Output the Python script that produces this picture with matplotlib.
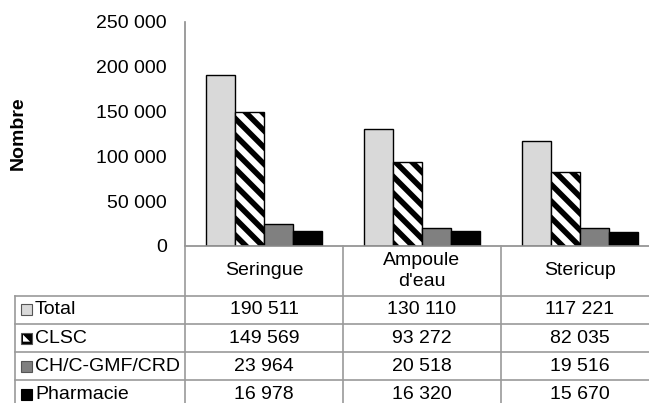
import numpy as np
import matplotlib
matplotlib.use("Agg")
import matplotlib.pyplot as plt
from matplotlib.lines import Line2D
from matplotlib.patches import Rectangle, Polygon
from matplotlib import transforms
from matplotlib.ticker import FuncFormatter

plt.rcParams['font.family'] = ['Liberation Sans', 'DejaVu Sans']
plt.rcParams['hatch.linewidth'] = 4.0

categories = ["Seringue", "Ampoule\nd'eau", "Stericup"]
series = ["Total", "CLSC", "CH/C-GMF/CRD", "Pharmacie"]
total = [190511, 130110, 117221]
clsc = [149569, 93272, 82035]
ch = [23964, 20518, 19516]
pharmacie = [16978, 16320, 15670]
values = [total, clsc, ch, pharmacie]

colors = ['#d9d9d9', 'white', '#808080', 'black']
hatches = [None, '\\\\', None, None]

W, H = 649, 403
fig = plt.figure(figsize=(W / 100, H / 100), dpi=100)

def fx(px):
    return px / W

def fy(py):
    return 1 - py / H

ax_left, ax_right = 185, 659
ax_top, ax_bot = 21.5, 246
ax = fig.add_axes([fx(ax_left), fy(ax_bot), fx(ax_right - ax_left), fy(ax_top) - fy(ax_bot)])

x = np.arange(len(categories))
bw = 0.183
fs = 14
for i, (name, vals) in enumerate(zip(series, values)):
    ax.bar(x + (i - 1.5) * bw, vals, bw, color=colors[i], edgecolor='black',
           linewidth=1.0, hatch=hatches[i], zorder=3)

ax.set_xlim(-0.5, 2.5)
ax.set_ylim(0, 250000)
ax.set_yticks(np.arange(0, 250001, 50000))
ax.yaxis.set_major_formatter(FuncFormatter(lambda v, p: f"{v:,.0f}".replace(',', ' ')))
ax.tick_params(axis='y', length=0, pad=13, labelsize=fs)
ax.set_xticks([])
for s in ['top', 'right', 'bottom']:
    ax.spines[s].set_visible(False)
ax.spines['left'].set_color('#8c8c8c')
ax.spines['left'].set_linewidth(1.2)
ax.patch.set_visible(False)

fig.text(fx(18.5), fy(133), "Nombre", rotation=90, fontsize=fs, fontweight='bold',
         ha='center', va='center')

# data table under the chart
gridc = '#9a9a9a'
lw = 1.2
trans = transforms.blended_transform_factory(ax.transData, fig.transFigure)
row_lines = [295.7, 324, 352, 380]
row_h = 28.3
tab_left = 14.7

fig.add_artist(Line2D([fx(ax_left), 1], [fy(ax_bot), fy(ax_bot)], color='#8c8c8c', lw=lw))
fig.add_artist(Line2D([fx(ax_left), fx(ax_left)], [fy(ax_bot), 0], color=gridc, lw=lw))
fig.add_artist(Line2D([fx(tab_left), fx(tab_left)], [fy(row_lines[0]), 0], color=gridc, lw=lw))
for b in [0.5, 1.5]:
    fig.add_artist(Line2D([b, b], [fy(ax_bot), 0], color=gridc, lw=lw, transform=trans))
for ry in row_lines:
    fig.add_artist(Line2D([fx(tab_left), 1], [fy(ry), fy(ry)], color=gridc, lw=lw))

# header
for xi, c in zip(x, categories):
    fig.text(xi, fy((ax_bot + row_lines[0]) / 2), c, transform=trans, ha='center',
             va='center', fontsize=fs, linespacing=1.35)

# rows
ks = 11
for i, (name, vals) in enumerate(zip(series, values)):
    yc = row_lines[0] + row_h * (i + 0.5)
    x0, y0 = 21, yc + ks / 2
    key = Rectangle((fx(x0), fy(y0)), fx(ks), fy(y0 - ks) - fy(y0),
                    facecolor=colors[i] if i != 1 else 'black',
                    edgecolor='#555555' if i != 3 else 'black',
                    lw=0.8, transform=fig.transFigure)
    fig.add_artist(key)
    if i == 1:
        tri = Polygon([(fx(x0 + 2), fy(y0 - 2)), (fx(x0 + 2), fy(y0 - ks + 2)),
                       (fx(x0 + ks - 2), fy(y0 - 2))], closed=True, facecolor='white',
                      edgecolor='none', transform=fig.transFigure)
        fig.add_artist(tri)
    fig.text(fx(35), fy(yc), name, ha='left', va='center', fontsize=fs)
    for xi, v in zip(x, vals):
        fig.text(xi, fy(yc), f"{v:,}".replace(',', ' '), transform=trans,
                 ha='center', va='center', fontsize=fs)

fig.savefig("out.png", dpi=100)
